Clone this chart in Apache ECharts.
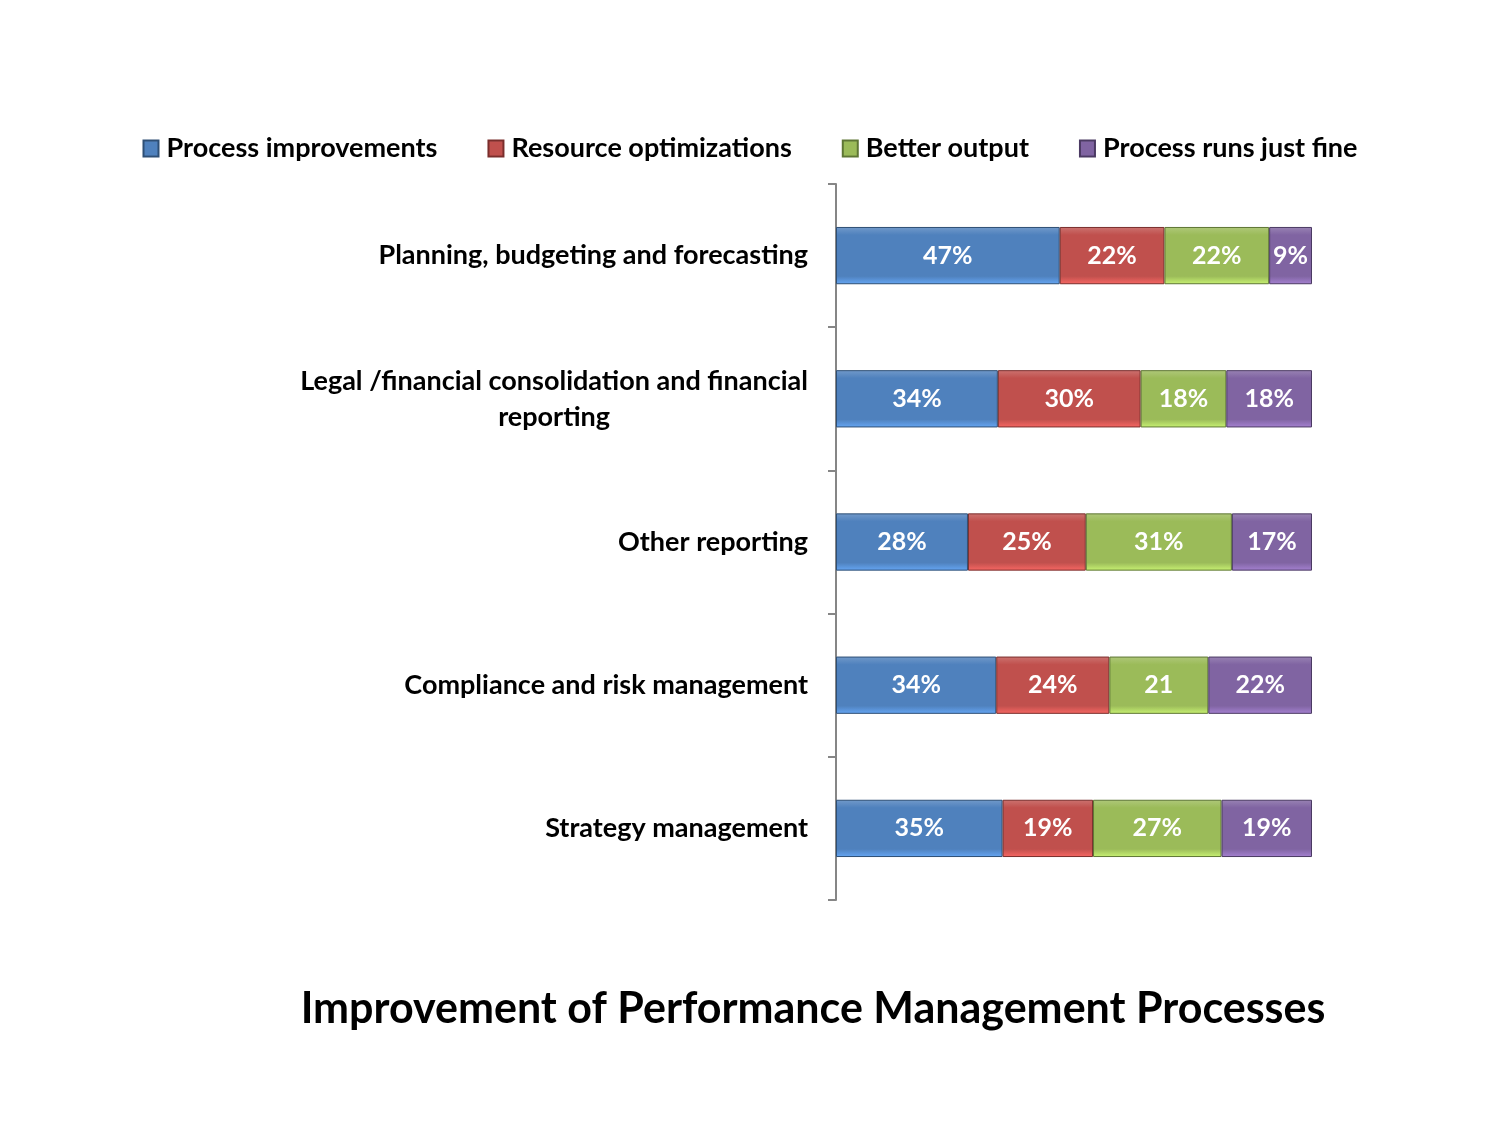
<!DOCTYPE html>
<html>
<head>
<meta charset="utf-8">
<script src="https://cdn.jsdelivr.net/npm/echarts@6/dist/echarts.min.js"></script>
<style>html,body{margin:0;padding:0;background:#fff}#c{width:1500px;height:1125px}</style>
</head>
<body>
<div id="c"></div>
<script>
const categories = [
  'Planning, budgeting and forecasting',
  'Legal /financial consolidation and financial\nreporting',
  'Other reporting',
  'Compliance and risk management',
  'Strategy management'
];
const seriesNames = ['Process improvements', 'Resource optimizations', 'Better output', 'Process runs just fine'];
const processImprovements = [47, 34, 28, 34, 35];
const resourceOptimizations = [22, 30, 25, 24, 19];
const betterOutput = [22, 18, 31, 21, 27];
const processRunsJustFine = [9, 18, 17, 22, 19];
const labelTexts = [
  ['47%', '34%', '28%', '34%', '35%'],
  ['22%', '30%', '25%', '24%', '19%'],
  ['22%', '18%', '31%', '21', '27%'],
  ['9%', '18%', '17%', '22%', '19%']
];
const colors = ['#4F81BD', '#C0504D', '#9BBB59', '#8064A2'];
const borders = ['#2E4F75', '#7A2E2C', '#5E7634', '#4B3A63'];

const raw = [processImprovements, resourceOptimizations, betterOutput, processRunsJustFine];
const totals = categories.map((_, i) => raw.reduce((s, arr) => s + arr[i], 0));
const FONT = 'Lato';

const series = raw.map((arr, si) => ({
  name: seriesNames[si],
  type: 'bar',
  stack: 'total',
  barWidth: '40%',
  data: arr.map((v, i) => v / totals[i] * 100),
  itemStyle: {
    color: {
      type: 'linear', x: 0, y: 0, x2: 0, y2: 1,
      colorStops: [
        {offset: 0, color: echarts.color.lift(colors[si], 0.2)},
        {offset: 0.14, color: colors[si]},
        {offset: 0.86, color: colors[si]},
        {offset: 1, color: echarts.color.lift(colors[si], -0.3)}
      ]
    },
    borderColor: borders[si],
    borderWidth: 1
  },
  label: {
    show: true,
    position: 'inside',
    color: '#fff',
    fontFamily: FONT,
    fontWeight: 'bold',
    fontSize: 25,
    formatter: p => labelTexts[si][p.dataIndex]
  }
}));

const chart = echarts.init(document.getElementById('c'));
chart.setOption({
  animation: false,
  color: colors,
  title: {
    text: 'Improvement of Performance Management Processes',
    left: 808,
    top: 983,
    textAlign: 'center',
    textStyle: {fontFamily: FONT, fontWeight: 'bold', fontSize: 43, color: '#000'}
  },
  legend: {
    top: 130,
    left: 'center',
    itemWidth: 15,
    itemHeight: 16,
    itemGap: 50,
    icon: 'rect',
    textStyle: {fontFamily: FONT, fontWeight: 'bold', fontSize: 27, color: '#000', padding: [0, 0, 0, 3]},
    data: seriesNames
  },
  grid: {left: 836, right: 188, top: 184, bottom: 225, containLabel: false},
  xAxis: {
    type: 'value', min: 0, max: 100, show: false
  },
  yAxis: {
    type: 'category',
    inverse: true,
    data: categories,
    axisLine: {show: true, lineStyle: {color: '#868686', width: 2}},
    axisTick: {show: true, length: 8, lineStyle: {color: '#868686', width: 2}},
    axisLabel: {
      margin: 28,
      fontFamily: FONT,
      fontWeight: 'bold',
      fontSize: 27,
      color: '#000',
      lineHeight: 36,
      formatter: v => '{c|' + v.split('\n').join('}\n{c|') + '}',
      rich: {c: {align: 'center', fontFamily: FONT, fontWeight: 'bold', fontSize: 27, color: '#000', lineHeight: 36}}
    },
    splitLine: {show: false}
  },
  series: series
});
</script>
</body>
</html>
